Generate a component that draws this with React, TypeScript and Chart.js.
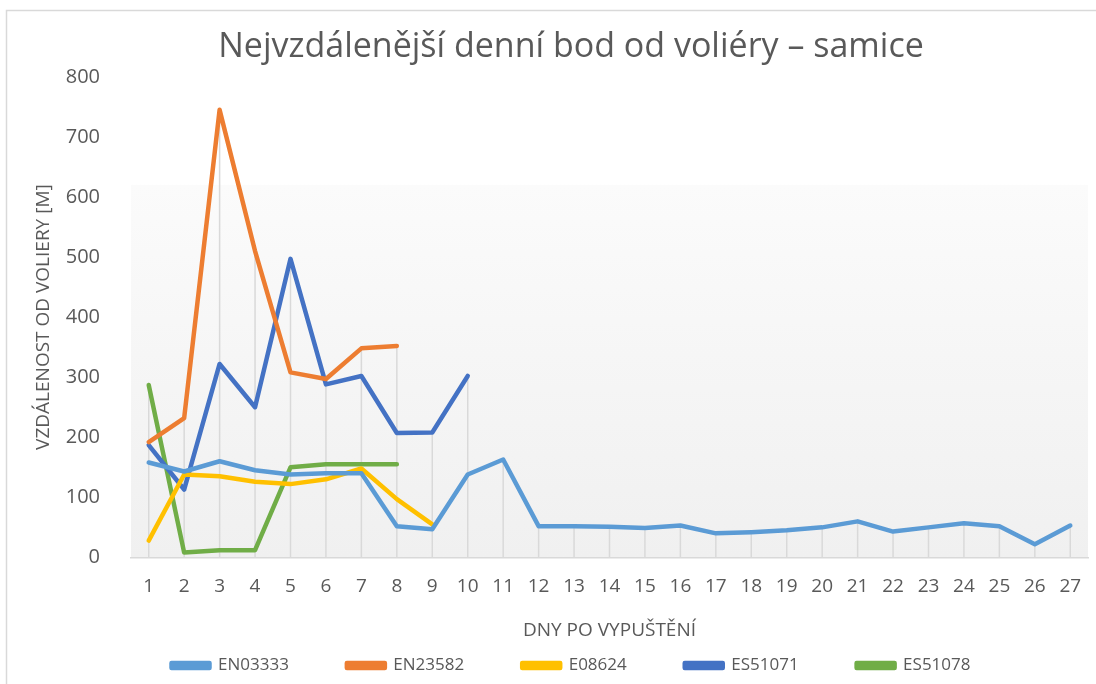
import React, { useEffect, useRef } from "react";
import { Chart, registerables } from "chart.js";

Chart.register(...registerables);

const days = ["1","2","3","4","5","6","7","8","9","10","11","12","13","14","15","16","17","18","19","20","21","22","23","24","25","26","27"];
const EN03333 = [158,143,160,145,138,140,140,52,47,138,163,52,52,51,49,53,40,42,45,50,60,43,50,57,52,22,53];
const EN23582 = [192,232,745,510,308,297,348,352];
const E08624 = [28,138,135,126,122,130,148,97,55];
const ES51071 = [187,113,322,250,497,288,302,207,208,302];
const ES51078 = [287,8,12,12,150,155,155,155];
const yTicks = [0,100,200,300,400,500,600,700,800];

const TEXT = "#595959";
const FONT = "'Open Sans', 'DejaVu Sans', sans-serif";

const bgPlugin = {
  id: "bgPlugin",
  beforeDraw(chart: any) {
    const { ctx, chartArea: a } = chart;
    ctx.save();
    const g = ctx.createLinearGradient(0, a.top, 0, a.bottom);
    g.addColorStop(0, "#ffffff");
    g.addColorStop(0.224, "#ffffff");
    g.addColorStop(0.226, "#fbfbfb");
    g.addColorStop(1, "#f0f0f0");
    ctx.fillStyle = g;
    ctx.fillRect(a.left, a.top, a.right - a.left, a.bottom - a.top);
    ctx.restore();
  },
  beforeDatasetsDraw(chart: any) {
    const { ctx, chartArea: a, scales } = chart;
    const xs = scales.x, ys = scales.y;
    ctx.save();
    ctx.strokeStyle = "#d9d9d9";
    ctx.lineWidth = 1.5;
    chart.data.labels.forEach((_: any, i: number) => {
      let mx: number | null = null;
      chart.data.datasets.forEach((ds: any) => {
        const v = ds.data[i];
        if (v !== undefined && v !== null && (mx === null || v > mx)) mx = v;
      });
      if (mx === null) return;
      const x = xs.getPixelForValue(i);
      ctx.beginPath();
      ctx.moveTo(x, ys.getPixelForValue(mx));
      ctx.lineTo(x, a.bottom);
      ctx.stroke();
    });
    ctx.restore();
  },
  afterDraw(chart: any) {
    const { ctx } = chart;
    ctx.save();
    ctx.strokeStyle = "#d9d9d9";
    ctx.lineWidth = 1.5;
    ctx.beginPath();
    ctx.moveTo(6.5, chart.height);
    ctx.lineTo(6.5, 10.5);
    ctx.lineTo(chart.width, 10.5);
    ctx.stroke();
    ctx.restore();
  },
};

function mk(label: string, data: number[], color: string) {
  return {
    label,
    data,
    borderColor: color,
    backgroundColor: color,
    borderWidth: 4.5,
    pointRadius: 0,
    pointHoverRadius: 0,
    tension: 0,
    borderCapStyle: "round",
    borderJoinStyle: "round",
    fill: false,
  };
}

export default function App() {
  const ref = useRef<HTMLCanvasElement | null>(null);
  useEffect(() => {
    if (!ref.current) return;
    const LEFT = 54;
    const chart = new Chart(ref.current, {
      type: "line",
      data: {
        labels: days,
        datasets: [
          mk("EN03333", EN03333, "#5B9BD5"),
          mk("EN23582", EN23582, "#ED7D31"),
          mk("E08624", E08624, "#FFC000"),
          mk("ES51071", ES51071, "#4472C4"),
          mk("ES51078", ES51078, "#70AD47"),
        ] as any,
      },
      options: {
        animation: false,
        responsive: false,
        layout: { padding: { left: LEFT, right: 8, top: 0, bottom: 0 } },
        plugins: {
          title: {
            display: true,
            text: "Nejvzdálenější denní bod od voliéry – samice",
            color: TEXT,
            font: { family: FONT, size: 34, weight: "normal", lineHeight: 1.2 },
            padding: { top: 27, bottom: 9 },
          },
          legend: {
            position: "bottom",
            labels: {
              color: TEXT,
              font: { family: FONT, size: 17 },
              boxWidth: 38,
              boxHeight: 5,
              padding: 58,
            },
          },
          tooltip: { enabled: false },
        },
        scales: {
          x: {
            offset: true,
            grid: { display: false },
            border: { display: true, color: "#d9d9d9", width: 1.5 },
            ticks: {
              color: TEXT,
              font: { family: FONT, size: 19 },
              padding: 10,
              maxRotation: 0,
              autoSkip: false,
            },
            title: {
              display: true,
              text: "DNY PO VYPUŠTĚNÍ",
              color: TEXT,
              font: { family: FONT, size: 19 },
              padding: { top: 11, bottom: -43 },
            },
          },
          y: {
            min: 0,
            max: 800,
            grid: { display: false },
            border: { display: false },
            afterBuildTicks(scale: any) {
              scale.ticks = yTicks.map((v) => ({ value: v }));
            },
            afterFit(scale: any) {
              scale.width = 131 - LEFT;
            },
            ticks: {
              color: TEXT,
              font: { family: FONT, size: 20 },
              padding: 23,
            },
            title: {
              display: true,
              text: "VZDÁLENOST OD VOLIERY [M]",
              color: TEXT,
              font: { family: FONT, size: 19 },
              padding: { top: -22, bottom: 0 },
            },
          },
        },
      },
      plugins: [bgPlugin],
    });
    return () => chart.destroy();
  }, []);
  return (
    <div style={{ position: "absolute", left: 0, top: 0, width: 1096, height: 684, background: "#fff" }}>
      <canvas ref={ref} width={1096} height={684} style={{ display: "block", width: 1096, height: 684 }} />
    </div>
  );
}
